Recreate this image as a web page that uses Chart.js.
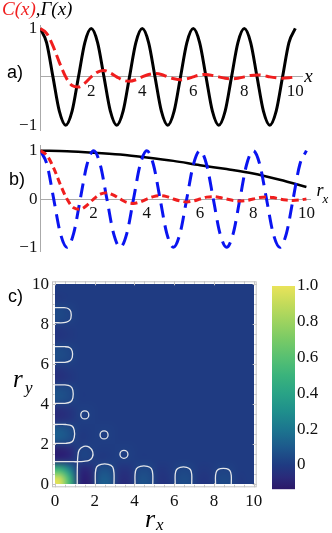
<!DOCTYPE html>
<html><head><meta charset="utf-8">
<script src="https://cdn.jsdelivr.net/npm/chart.js@4.4.1/dist/chart.umd.min.js"></script>
<style>
html,body{margin:0;padding:0;background:#fff;width:332px;height:533px;overflow:hidden;position:relative}
canvas{position:absolute;left:0}
</style></head><body>
<canvas id="ca" width="332" height="135" style="top:0"></canvas>
<canvas id="cb" width="332" height="125" style="top:135px"></canvas>
<canvas id="cc" width="262" height="273" style="top:260px"></canvas>
<canvas id="cbar" width="70" height="230" style="left:262px;top:270px"></canvas>
<script>
// ---------- data: panel a ----------
const xsA = [0,0.25,0.5,0.75,1,1.25,1.5,1.75,2,2.25,2.5,2.75,3,3.25,3.5,3.75,4,4.25,4.5,4.75,5,5.25,5.5,5.75,6,6.25,6.5,6.75,7,7.25,7.5,7.75,8,8.25,8.5,8.75,9,9.25,9.5,9.75,10];
const gammaA = [1,0.71,0,-0.71,-1,-0.71,0,0.71,1,0.71,0,-0.71,-1,-0.71,0,0.71,1,0.71,0,-0.71,-1,-0.71,0,0.71,1,0.71,0,-0.71,-1,-0.71,0,0.71,1,0.71,0,-0.71,-1,-0.71,0,0.71,1];
const corrA = [1,0.90,0.64,0.30,0,-0.18,-0.21,-0.13,0,0.10,0.13,0.08,0,-0.07,-0.09,-0.06,0,0.05,0.07,0.05,0,-0.04,-0.06,-0.04,0,0.04,0.05,0.03,0,-0.03,-0.04,-0.03,0,0.03,0.04,0.03,0,-0.02,-0.03,-0.02,0];
// ---------- data: panel b ----------
const xsB = xsA;
const blueB = [1,0.71,0,-0.71,-1,-0.71,0,0.71,1,0.71,0,-0.71,-1,-0.71,0,0.71,1,0.71,0,-0.71,-1,-0.71,0,0.71,1,0.71,0,-0.71,-1,-0.71,0,0.71,1,0.71,0,-0.71,-1,-0.71,0,0.71,1];
const redB = [1,0.90,0.64,0.30,0,-0.18,-0.21,-0.13,0,0.10,0.13,0.08,0,-0.07,-0.09,-0.06,0,0.05,0.07,0.05,0,-0.04,-0.06,-0.04,0,0.04,0.05,0.03,0,-0.03,-0.04,-0.03,0,0.03,0.04,0.03,0,-0.02,-0.03,-0.02,0];
const xsBlack = [0,1,2,3,4,5,6,7,8,9,10];
const blackB = [1,0.99,0.96,0.92,0.86,0.79,0.70,0.62,0.53,0.40,0.25];
const xTicksAB = [2,4,6,8,10];
const yTicksA = [-1,1];
const yTicksB = [-1,0,1];
// ---------- data: panel c ----------
const heatRows = [ // row 0 = r_y 0..0.5 (bottom), columns r_x 0..10 in 0.5 steps
[0.95,0.50,-0.08,-0.10,0.10,0.10,-0.05,-0.05,0.07,0.06,-0.03,-0.02,0.05,0.05,-0.02,-0.02,0.04,0.04,-0.01,0.00],
[0.50,0.25,-0.06,-0.07,0.06,0.06,-0.03,-0.03,0.04,0.04,-0.02,-0.01,0.03,0.03,-0.01,-0.01,0.02,0.02,0.00,0.00],
[-0.08,-0.06,0.02,0.02,-0.01,0.00,0.01,0.01,0,0,0,0,0,0,0,0,0,0,0,0],
[-0.10,-0.07,0.02,0.02,0.00,0.00,0.01,0.01,0,0,0,0,0,0,0,0,0,0,0,0],
[0.10,0.06,-0.01,0.00,0.01,0.01,0,0,0,0,0,0,0,0,0,0,0,0,0,0],
[0.10,0.06,0.00,0.00,0.01,0.01,0,0,0,0,0,0,0,0,0,0,0,0,0,0],
[-0.05,-0.03,0.01,0.01,0,0,0,0,0,0,0,0,0,0,0,0,0,0,0,0],
[-0.05,-0.03,0.01,0.01,0,0,0,0,0,0,0,0,0,0,0,0,0,0,0,0],
[0.07,0.04,0,0,0,0,0,0,0,0,0,0,0,0,0,0,0,0,0,0],
[0.06,0.04,0,0,0,0,0,0,0,0,0,0,0,0,0,0,0,0,0,0],
[-0.04,-0.02,0,0,0,0,0,0,0,0,0,0,0,0,0,0,0,0,0,0],
[-0.03,-0.01,0,0,0,0,0,0,0,0,0,0,0,0,0,0,0,0,0,0],
[0.05,0.03,0,0,0,0,0,0,0,0,0,0,0,0,0,0,0,0,0,0],
[0.05,0.03,0,0,0,0,0,0,0,0,0,0,0,0,0,0,0,0,0,0],
[-0.02,-0.01,0,0,0,0,0,0,0,0,0,0,0,0,0,0,0,0,0,0],
[-0.02,-0.01,0,0,0,0,0,0,0,0,0,0,0,0,0,0,0,0,0,0],
[0.04,0.02,0,0,0,0,0,0,0,0,0,0,0,0,0,0,0,0,0,0],
[0.04,0.02,0,0,0,0,0,0,0,0,0,0,0,0,0,0,0,0,0,0],
[-0.01,0.00,0,0,0,0,0,0,0,0,0,0,0,0,0,0,0,0,0,0],
[0.00,0.00,0,0,0,0,0,0,0,0,0,0,0,0,0,0,0,0,0,0]
];
const heatExtent = [0,10]; // r_x and r_y range covered by heatRows
const cTicks = [0,2,4,6,8,10];
const contourBumps = [
 [[2.03,0],[2.03,0.55],[2.1,0.87],[2.32,1.0],[2.68,1.0],[2.9,0.87],[2.97,0.55],[2.97,0]],
 [[4.03,0],[4.03,0.5],[4.1,0.78],[4.3,0.9],[4.65,0.9],[4.85,0.78],[4.92,0.5],[4.92,0]],
 [[6.05,0],[6.05,0.5],[6.12,0.74],[6.3,0.85],[6.63,0.85],[6.81,0.74],[6.88,0.5],[6.88,0]],
 [[8.08,0],[8.08,0.45],[8.15,0.68],[8.32,0.78],[8.63,0.78],[8.8,0.68],[8.87,0.45],[8.87,0]],
 [[0,2.05],[0.55,2.05],[0.85,2.12],[0.97,2.35],[0.97,2.7],[0.85,2.92],[0.55,2.99],[0,2.99]],
 [[0,4.05],[0.5,4.05],[0.78,4.12],[0.9,4.32],[0.9,4.7],[0.78,4.9],[0.5,4.97],[0,4.97]],
 [[0,6.1],[0.5,6.1],[0.75,6.17],[0.87,6.35],[0.87,6.65],[0.75,6.83],[0.5,6.88],[0,6.88]],
 [[0,8.08],[0.45,8.08],[0.68,8.15],[0.8,8.3],[0.8,8.62],[0.68,8.78],[0.45,8.83],[0,8.83]],
 [[1.12,0],[1.12,0.6],[1.13,1.0],[1.15,1.4],[1.22,1.72],[1.45,1.9],[1.72,1.86],[1.9,1.62],[1.88,1.35],[1.72,1.2],[1.45,1.15],[1.15,1.13],[0.8,1.13],[0,1.13]]
];
const contourCircles = [[1.5,3.47],[2.47,2.47],[3.47,1.5]];
// colour scale
const cmapVals = [-0.135,-0.07,0.0,0.1,0.2,0.3,0.4,0.5,0.6,0.7,0.8,0.9,1.0];
const cmapCols = ['#2c1868','#2a2a7a','#1f3b82','#1d598c','#1c768f','#1f8f8c','#29a386','#3ab37c','#57c072','#78ca66','#9dd35f','#c3db5a','#e9e35a'];
const cbarTicks = [0,0.2,0.4,0.6,0.8,1.0];
const cbarLabels = ['0','0.2','0.4','0.6','0.8','1.0'];

// ---------- helpers ----------
const pts = (xs, ys) => xs.map((x,i)=>({x, y: ys[i]}));
const serif = '"Liberation Serif", "DejaVu Serif", serif';
const hex = h => [parseInt(h.slice(1,3),16),parseInt(h.slice(3,5),16),parseInt(h.slice(5,7),16)];
function colorFor(v){
  if (v <= cmapVals[0]) return hex(cmapCols[0]);
  for (let k=1;k<cmapVals.length;k++){
    if (v <= cmapVals[k]){
      const t=(v-cmapVals[k-1])/(cmapVals[k]-cmapVals[k-1]);
      const a=hex(cmapCols[k-1]), b=hex(cmapCols[k]);
      return a.map((c,i)=>Math.round(c+(b[i]-c)*t));
    }
  }
  return hex(cmapCols[cmapCols.length-1]);
}
const common = {responsive:false, animation:false, devicePixelRatio:1, events:[],
  plugins:{legend:{display:false}, tooltip:{enabled:false}}};
function zeroPad(s){ s.paddingLeft=0; s.paddingRight=0; s.paddingTop=0; s.paddingBottom=0; }
const tickFont = {family: serif, size: 17};

function linePanel(id, datasets, xMax, yMin, yMax, pad, yAxisW, yTicks, showZero, deco){
  return new Chart(document.getElementById(id), {
    type:'scatter',
    data:{datasets},
    options:{...common,
      layout:{padding:pad},
      scales:{
        x:{type:'linear', min:0, max:xMax, position:{y:0},
           grid:{display:false, drawTicks:false}, border:{display:true, color:'#aaaaaa', width:1},
           ticks:{padding:4, color:'#111', font:tickFont, autoSkip:false, maxRotation:0, callback:v=>String(v)},
           afterBuildTicks:s=>{ s.ticks = xTicksAB.map(v=>({value:v})); },
           afterFit: zeroPad},
        y:{type:'linear', min:yMin, max:yMax, position:'left',
           grid:{display:false, drawTicks:false}, border:{display:true, color:'#aaaaaa', width:1},
           ticks:{padding:3, color:'#111', font:tickFont, autoSkip:false,
                  callback:v=> v===1?'1':(v===-1?'\u22121':(v===0 && showZero?'0':''))},
           afterBuildTicks:s=>{ s.ticks = yTicks.map(v=>({value:v})); },
           afterFit:s=>{ s.width = yAxisW; zeroPad(s); }}
      }
    },
    plugins:[{id:'deco'+id, afterDraw: deco}]
  });
}

// ---------- panel a ----------
linePanel('ca', [
  {data:pts(xsA, corrA), showLine:true, borderColor:'#f01e1e', borderWidth:3, borderDash:[11,5], pointRadius:0, cubicInterpolationMode:'monotone'},
  {data:pts(xsA, gammaA), showLine:true, borderColor:'#000', borderWidth:3, pointRadius:0, cubicInterpolationMode:'monotone'}
], 10.27, -1.1, 1.07, {left:0, right:29.8, top:25.1, bottom:4.9}, 40.2, yTicksA, false, chart=>{
  const ctx=chart.ctx, xs=chart.scales.x, ys=chart.scales.y;
  ctx.save();
  ctx.font='italic 19px '+serif; ctx.textBaseline='alphabetic';
  ctx.fillStyle='#f01e1e'; ctx.fillText('C(x)',2,15);
  const w=ctx.measureText('C(x)').width;
  ctx.fillStyle='#000'; ctx.fillText(',\u0393(x)',2+w,15);
  ctx.font='italic 19px '+serif; ctx.fillText('x', xs.right+2, ys.getPixelForValue(0)+5);
  ctx.font='18px "Liberation Sans", Arial, sans-serif'; ctx.fillText('a)',7,78);
  ctx.restore();
});

// ---------- panel b ----------
linePanel('cb', [
  {data:pts(xsB, redB), showLine:true, borderColor:'#f01e1e', borderWidth:3, borderDash:[7,4], pointRadius:0, cubicInterpolationMode:'monotone'},
  {data:pts(xsB, blueB), showLine:true, borderColor:'#0a14f0', borderWidth:3, borderDash:[14,8], pointRadius:0, cubicInterpolationMode:'monotone'},
  {data:pts(xsBlack, blackB), showLine:true, borderColor:'#000', borderWidth:2.5, pointRadius:0, cubicInterpolationMode:'monotone'}
], 10.15, -1.08, 1.1, {left:0, right:21.6, top:10.9, bottom:8.8}, 40.4, yTicksB, true, chart=>{
  const ctx=chart.ctx, xs=chart.scales.x, ys=chart.scales.y;
  ctx.save(); ctx.fillStyle='#000';
  const y0=ys.getPixelForValue(0);
  ctx.font='italic 18px '+serif; ctx.fillText('r', xs.right+6, y0-3);
  ctx.font='italic 13px '+serif; ctx.fillText('x', xs.right+12, y0+4);
  ctx.font='18px "Liberation Sans", Arial, sans-serif'; ctx.fillText('b)',9,50);
  ctx.restore();
});

// ---------- panel c ----------
const heatPlugin = {
  id:'heat',
  beforeDatasetsDraw(chart){
    const {ctx, scales:{x,y}} = chart;
    const n=heatRows.length, m=heatRows[0].length;
    const off=document.createElement('canvas'); off.width=m; off.height=n;
    const octx=off.getContext('2d'); const img=octx.createImageData(m,n);
    for(let j=0;j<n;j++) for(let i=0;i<m;i++){
      const c=colorFor(heatRows[j][i]); const k=((n-1-j)*m+i)*4;
      img.data[k]=c[0]; img.data[k+1]=c[1]; img.data[k+2]=c[2]; img.data[k+3]=255;
    }
    octx.putImageData(img,0,0);
    const x0=x.getPixelForValue(heatExtent[0]), x1=x.getPixelForValue(heatExtent[1]);
    const yt=y.getPixelForValue(heatExtent[1]), yb=y.getPixelForValue(heatExtent[0]);
    ctx.save(); ctx.imageSmoothingEnabled=true; ctx.imageSmoothingQuality='high';
    ctx.drawImage(off, x0, yt, x1-x0, yb-yt); ctx.restore();
  },
  afterDraw(chart){
    const {ctx, scales:{x,y}, chartArea:a} = chart;
    ctx.save();
    ctx.strokeStyle='#c4c4c4'; ctx.lineWidth=1;
    ctx.strokeRect(a.left+0.5, a.top+0.5, a.right-a.left-1, a.bottom-a.top-1);
    ctx.beginPath();
    for(let v=0; v<=10.001; v+=0.5){
      const L = (Math.abs(v/2-Math.round(v/2))<1e-6)?4:2.5;
      const px=Math.round(x.getPixelForValue(v))+0.5, py=Math.round(y.getPixelForValue(v))+0.5;
      ctx.moveTo(px,a.bottom); ctx.lineTo(px,a.bottom-L);
      ctx.moveTo(px,a.top); ctx.lineTo(px,a.top+L);
      ctx.moveTo(a.left,py); ctx.lineTo(a.left+L,py);
      ctx.moveTo(a.right,py); ctx.lineTo(a.right-L,py);
    }
    ctx.stroke();
    ctx.fillStyle='#000';
    ctx.font='18px "Liberation Sans", Arial, sans-serif'; ctx.fillText('c)',8,42);
    ctx.font='italic 25px '+serif; ctx.fillText('r',13,127);
    ctx.font='italic 17px '+serif; ctx.fillText('y',25,133);
    ctx.font='italic 26px '+serif; ctx.fillText('r',145,267);
    ctx.font='italic 17px '+serif; ctx.fillText('x',156,270);
    ctx.restore();
  }
};
const contourStyle = {showLine:true, borderColor:'rgba(238,238,238,0.95)', borderWidth:1.3, pointRadius:0, tension:0.35, fill:false};
new Chart(document.getElementById('cc'), {
  type:'scatter',
  data:{datasets:[
    ...contourBumps.map(c=>({...contourStyle, data:c.map(([x,y])=>({x,y}))})),
    {data:contourCircles.map(([x,y])=>({x,y})), showLine:false, pointRadius:4, pointStyle:'circle',
     pointBackgroundColor:'rgba(0,0,0,0)', pointBorderColor:'rgba(238,238,238,0.95)', pointBorderWidth:1.3}
  ]},
  options:{...common,
    layout:{padding:{left:0, right:4, top:21.3, bottom:0}},
    scales:{
      x:{type:'linear', min:-0.15, max:10.15, position:'bottom',
         grid:{display:false, drawTicks:false}, border:{display:false},
         ticks:{padding:4, color:'#111', font:tickFont, autoSkip:false, maxRotation:0, callback:v=>String(v)},
         afterBuildTicks:s=>{ s.ticks = cTicks.map(v=>({value:v})); },
         afterFit:s=>{ s.height=45.7; zeroPad(s); }},
      y:{type:'linear', min:-0.15, max:10.15, position:'left',
         grid:{display:false, drawTicks:false}, border:{display:false},
         ticks:{padding:3, color:'#111', font:tickFont, autoSkip:false, callback:v=>String(v)},
         afterBuildTicks:s=>{ s.ticks = cTicks.map(v=>({value:v})); },
         afterFit:s=>{ s.width=52; zeroPad(s); }}
    }
  },
  plugins:[heatPlugin]
});

// ---------- colour bar ----------
new Chart(document.getElementById('cbar'), {
  type:'scatter',
  data:{datasets:[]},
  options:{...common,
    layout:{padding:{left:10, right:0, top:16, bottom:10.8}},
    scales:{
      x:{type:'linear', display:false, min:0, max:1},
      y:{type:'linear', min:cmapVals[0], max:cmapVals[cmapVals.length-1], position:'right',
         grid:{display:false, drawTicks:false}, border:{display:false},
         ticks:{padding:2, color:'#111', font:tickFont, autoSkip:false,
                callback:(v)=>{ const i=cbarTicks.findIndex(t=>Math.abs(t-v)<1e-9); return i<0?'':cbarLabels[i]; }},
         afterBuildTicks:s=>{ s.ticks = cbarTicks.map(v=>({value:v})); },
         afterFit:s=>{ s.width=37; zeroPad(s); }}
    }
  },
  plugins:[{id:'grad', beforeDatasetsDraw(chart){
    const {ctx, chartArea:a, scales:{y}} = chart;
    const y0=y.getPixelForValue(cmapVals[0]), y1=y.getPixelForValue(cmapVals[cmapVals.length-1]);
    const g=ctx.createLinearGradient(0,y0,0,y1);
    const span=cmapVals[cmapVals.length-1]-cmapVals[0];
    cmapVals.forEach((v,i)=>g.addColorStop((v-cmapVals[0])/span, cmapCols[i]));
    ctx.save(); ctx.fillStyle=g; ctx.fillRect(a.left, y1, a.right-a.left, y0-y1); ctx.restore();
  }}]
});
</script>
</body></html>
